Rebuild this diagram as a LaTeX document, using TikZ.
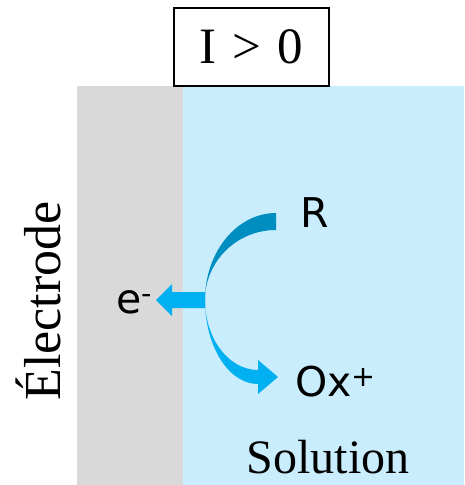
\documentclass[tikz,border=0pt]{standalone}
\usepackage{fontspec}
\setmainfont{Liberation Serif}
\newfontfamily\speciesfont{DejaVu Sans}
\usepackage{xcolor}
\usetikzlibrary{positioning}
\definecolor{electrodegray}{HTML}{D9D9D9}
\definecolor{solutionblue}{HTML}{C9EDFC}
\definecolor{arrowlight}{HTML}{00B0F0}
\definecolor{arrowdark}{HTML}{008EC0}
\begin{document}
\begin{tikzpicture}[x=1pt,y=-1pt,
  species/.style={inner sep=0pt,font=\speciesfont\fontsize{41}{45}\selectfont},
  lbl/.style={inner sep=0pt,font=\fontsize{52}{56}\selectfont}]
\useasboundingbox (0,0) rectangle (464,485);
\fill[electrodegray] (77,86) rectangle (183,485);
\fill[solutionblue] (183,86) rectangle (464,485);
\node[draw,fill=white,line width=1.6pt,minimum width=155pt,minimum height=78pt,inner sep=0pt,font=\fontsize{51}{55}\selectfont] (cur) at (251.5,47) {I\hspace{0.32em}>\hspace{0.32em}0};
\coordinate (j) at (205,300);
% oxydation de R : R -> Ox+ + e-
\fill[arrowdark] (276,213) .. controls (236.8,213) and (205,252) .. (j) .. controls (205,261.3) and (236.8,230) .. (276,230) -- cycle;
\fill[arrowlight] (j) .. controls (205,346.4) and (228.7,384) .. (258,384) -- (258,394) -- (278,377) -- (258,360) -- (258,370) .. controls (228.7,370) and (205,338.7) .. (j) -- cycle;
\fill[arrowlight] (j) -- (205,292) -- (172,292) -- (172,284) -- (156,300) -- (172,316) -- (172,308) -- (205,308) -- cycle;
\node[species] (r) at (315,212.5) {R};
\node[species,anchor=base west] (el) at (116,313) {e\textsuperscript{-}};
\node[species,anchor=base west] (ox) at (295,396) {Ox\textsuperscript{+}};
\node[lbl,rotate=90,anchor=base] (elec) at (60,301) {Électrode};
\node[lbl,anchor=base,font=\fontsize{48}{52}\selectfont] (sol) at (328,473) {Solution};
\end{tikzpicture}
\end{document}
